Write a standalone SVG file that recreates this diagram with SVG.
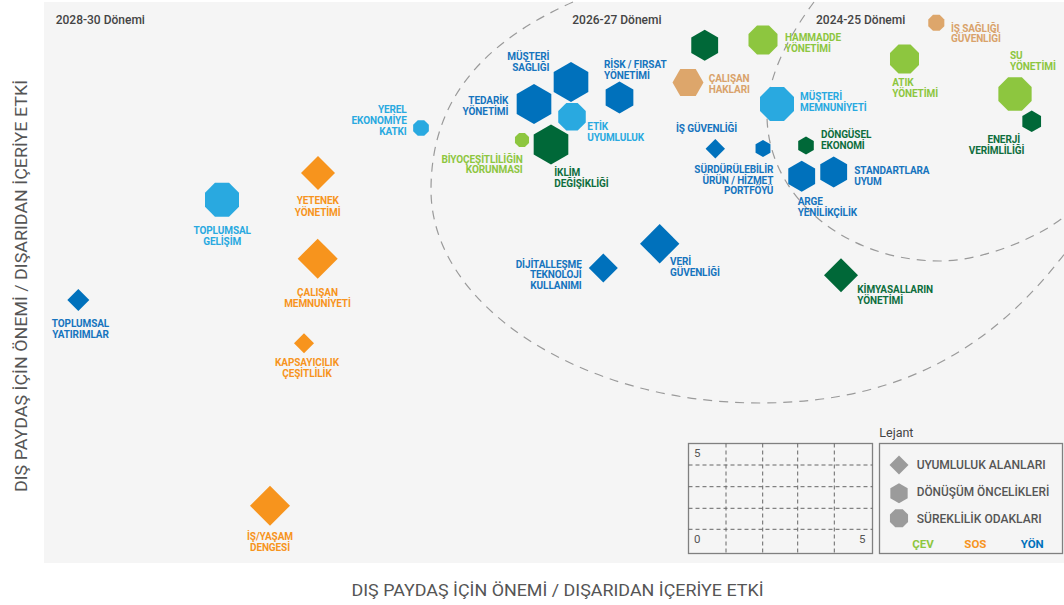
<svg xmlns="http://www.w3.org/2000/svg" xmlns:xlink="http://www.w3.org/1999/xlink" width="1064" height="605" viewBox="0 0 1064 605">
<defs>
<path id="oct" d="M0.3827,-0.9239 L0.9239,-0.3827 L0.9239,0.3827 L0.3827,0.9239 L-0.3827,0.9239 L-0.9239,0.3827 L-0.9239,-0.3827 L-0.3827,-0.9239 Z"/>
<path id="hex" d="M0,-1 L0.866,-0.5 L0.866,0.5 L0,1 L-0.866,0.5 L-0.866,-0.5 Z"/>
<path id="hexf" d="M-1,0 L-0.5,-0.866 L0.5,-0.866 L1,0 L0.5,0.866 L-0.5,0.866 Z"/>
<path id="dia" d="M0,-1 L1,0 L0,1 L-1,0 Z"/>
<style>
.lbl{font-family:Roboto,'Liberation Sans',sans-serif;font-size:10px;font-weight:700;letter-spacing:-0.1px}
.per{font-family:Roboto,'Liberation Sans',sans-serif;font-size:12px;font-weight:500;fill:#444}
.lej{font-family:Roboto,'Liberation Sans',sans-serif;font-size:12.5px;font-weight:400;fill:#444}
.axis{font-family:Roboto,'Liberation Sans',sans-serif;font-size:16.5px;font-weight:400;fill:#555}
.leg{font-family:Roboto,'Liberation Sans',sans-serif;font-size:12.8px;font-weight:500;fill:#555}
.num{font-family:Roboto,'Liberation Sans',sans-serif;font-size:11.5px;font-weight:400;fill:#555}
.cat{font-family:Roboto,'Liberation Sans',sans-serif;font-size:11.5px;font-weight:700}
.f-lb{fill:#29a9e0}.f-db{fill:#0071bc}.f-lg{fill:#8dc63f}.f-dg{fill:#006838}.f-or{fill:#f7941d}.f-tn{fill:#dda66b}.f-gy{fill:#9b9b9b}
.t-lb{fill:#29a9e0}.t-db{fill:#1674be}.t-lg{fill:#8dc63f}.t-dg{fill:#0e6e3d}.t-or{fill:#f7941d}.t-tn{fill:#d9a26a}
.arc{fill:none;stroke:#9a9a9a;stroke-width:1.2;stroke-dasharray:9 7}
.grid{fill:none;stroke:#666;stroke-width:1;stroke-dasharray:4 3}
.box{fill:none;stroke:#808080;stroke-width:1.3}
</style>
</defs>

<rect id="panel" x="44" y="2" width="1020" height="561" fill="#f5f5f5"/>

<g id="connectors">
<path class="arc" d="M573,2 C483,42 431,100 431,190 C431,305 580,403 760,403 C910,403 998.8,339.1 1064,254.5"/>
<path class="arc" d="M814,2 C790.6,33.4 767,75 767,115 C767,195.6 844.5,261 940,261 C985,261 1040,236 1064,217"/>
</g>

<g id="periods">
<text class="per" x="55.7" y="24.3">2028-30 Dönemi</text>
<text class="per" x="572.3" y="24">2026-27 Dönemi</text>
<text class="per" x="816" y="24">2024-25 Dönemi</text>
</g>

<g id="n-yerel-ekonomi"><use href="#oct" class="f-lb" transform="translate(421 128) scale(8.5)"/>
<text class="lbl t-lb" text-anchor="end"><tspan x="406.7" y="113.3">YEREL</tspan><tspan x="406.7" y="124.3">EKONOMİYE</tspan><tspan x="406.7" y="135">KATKI</tspan></text></g>

<g id="n-toplumsal-gelisim"><use href="#oct" class="f-lb" transform="translate(222 199.7) scale(18.4)"/>
<text class="lbl t-lb" text-anchor="middle"><tspan x="222.2" y="233.7">TOPLUMSAL</tspan><tspan x="222.2" y="244.7">GELİŞİM</tspan></text></g>

<g id="n-musteri-memnuniyeti"><use href="#oct" class="f-lb" transform="translate(777 104) scale(18.4)"/>
<text class="lbl t-lb"><tspan x="800" y="100">MÜŞTERİ</tspan><tspan x="800" y="111">MEMNUNİYETİ</tspan></text></g>

<g id="n-etik-uyumluluk"><use href="#oct" class="f-lb" transform="translate(572 116.7) scale(14.9)"/>
<text class="lbl t-lb"><tspan x="587.3" y="130">ETİK</tspan><tspan x="587.3" y="140.7">UYUMLULUK</tspan></text></g>

<g id="n-biyocesitlilik"><use href="#oct" class="f-lg" transform="translate(522 140) scale(7.6)"/>
<text class="lbl t-lg" text-anchor="end"><tspan x="522.7" y="162.7">BİYOÇEŞİTLİLİĞİN</tspan><tspan x="522.7" y="173.3">KORUNMASI</tspan></text></g>

<g id="n-hammadde"><use href="#oct" class="f-lg" transform="translate(763 40) scale(15.7)"/>
<text class="lbl t-lg"><tspan x="785" y="40.7">HAMMADDE</tspan><tspan x="785" y="51.7">YÖNETİMİ</tspan></text></g>

<g id="n-is-sagligi"><use href="#oct" class="f-tn" transform="translate(936.3 22.8) scale(8.7)"/>
<text class="lbl t-tn"><tspan x="951" y="31.7">İŞ SAĞLIĞI</tspan><tspan x="951" y="42.3">GÜVENLİĞİ</tspan></text></g>

<g id="n-atik"><use href="#oct" class="f-lg" transform="translate(904.5 59) scale(15.7)"/>
<text class="lbl t-lg"><tspan x="892.3" y="86">ATIK</tspan><tspan x="892.3" y="97.3">YÖNETİMİ</tspan></text></g>

<g id="n-su"><use href="#oct" class="f-lg" transform="translate(1015 94) scale(18)"/>
<text class="lbl t-lg"><tspan x="1010" y="59.3">SU</tspan><tspan x="1010" y="70">YÖNETİMİ</tspan></text></g>

<g id="n-musteri-sagligi"><use href="#hex" class="f-db" transform="translate(571 82) scale(20)"/>
<text class="lbl t-db" text-anchor="end"><tspan x="549.3" y="60">MÜŞTERİ</tspan><tspan x="549.3" y="70.7">SAĞLIĞI</tspan></text></g>

<g id="n-tedarik"><use href="#hex" class="f-db" transform="translate(534 104) scale(20)"/>
<text class="lbl t-db" text-anchor="end"><tspan x="508.3" y="104">TEDARİK</tspan><tspan x="508.3" y="115">YÖNETİMİ</tspan></text></g>

<g id="n-risk"><use href="#hex" class="f-db" transform="translate(619.5 97.5) scale(16)"/>
<text class="lbl t-db"><tspan x="604" y="67.7">RİSK / FIRSAT</tspan><tspan x="604" y="78.7">YÖNETİMİ</tspan></text></g>

<g id="n-calisan-haklari"><use href="#hexf" class="f-tn" transform="translate(688 82.5) scale(15.5)"/>
<text class="lbl t-tn"><tspan x="708.7" y="81.7">ÇALIŞAN</tspan><tspan x="708.7" y="92.7">HAKLARI</tspan></text></g>

<g id="n-cev-donusum"><use href="#hex" class="f-dg" transform="translate(704.7 45.3) scale(15.5)"/></g>

<g id="n-iklim"><use href="#hex" class="f-dg" transform="translate(551 144.5) scale(20)"/>
<text class="lbl t-dg"><tspan x="554.3" y="175.7">İKLİM</tspan><tspan x="554.3" y="186.7">DEĞİŞİKLİĞİ</tspan></text></g>

<g id="n-dongusel"><use href="#hex" class="f-dg" transform="translate(806 145.5) scale(9)"/>
<text class="lbl t-dg"><tspan x="821" y="138.3">DÖNGÜSEL</tspan><tspan x="821" y="149.3">EKONOMİ</tspan></text></g>

<g id="n-enerji"><use href="#hex" class="f-dg" transform="translate(1031.7 121.3) scale(10.8)"/>
<text class="lbl t-dg" text-anchor="end"><tspan x="1020" y="142.7">ENERJİ</tspan><tspan x="1024.3" y="154">VERİMLİLİĞİ</tspan></text></g>

<g id="n-surdurulebilir"><use href="#hex" class="f-db" transform="translate(763 148.5) scale(8.6)"/>
<text class="lbl t-db" text-anchor="end"><tspan x="773.3" y="172.7">SÜRDÜRÜLEBİLİR</tspan><tspan x="773.3" y="184">ÜRÜN / HİZMET</tspan><tspan x="773.3" y="194.3">PORTFÖYÜ</tspan></text></g>

<g id="n-arge"><use href="#hex" class="f-db" transform="translate(801.7 176.3) scale(15.5)"/>
<text class="lbl t-db"><tspan x="797.7" y="205">ARGE</tspan><tspan x="797.7" y="216">YENİLİKÇİLİK</tspan></text></g>

<g id="n-standartlara"><use href="#hex" class="f-db" transform="translate(833.7 172) scale(15.5)"/>
<text class="lbl t-db"><tspan x="854.3" y="174.3">STANDARTLARA</tspan><tspan x="854.3" y="185">UYUM</tspan></text></g>

<g id="n-yetenek"><use href="#dia" class="f-or" transform="translate(318 173) scale(17)"/>
<text class="lbl t-or" text-anchor="middle"><tspan x="317.7" y="204.3">YETENEK</tspan><tspan x="317.7" y="215.7">YÖNETİMİ</tspan></text></g>

<g id="n-calisan-memnuniyeti"><use href="#dia" class="f-or" transform="translate(317.7 258.7) scale(20)"/>
<text class="lbl t-or" text-anchor="middle"><tspan x="317.5" y="295.7">ÇALIŞAN</tspan><tspan x="317.5" y="306.7">MEMNUNİYETİ</tspan></text></g>

<g id="n-kapsayicilik"><use href="#dia" class="f-or" transform="translate(304 343.3) scale(10)"/>
<text class="lbl t-or" text-anchor="middle"><tspan x="307" y="366">KAPSAYICILIK</tspan><tspan x="307" y="376.7">ÇEŞİTLİLİK</tspan></text></g>

<g id="n-toplumsal-yatirimlar"><use href="#dia" class="f-db" transform="translate(78.3 300) scale(11)"/>
<text class="lbl t-db" text-anchor="middle"><tspan x="80.5" y="327.3">TOPLUMSAL</tspan><tspan x="80.5" y="338.3">YATIRIMLAR</tspan></text></g>

<g id="n-is-yasam"><use href="#dia" class="f-or" transform="translate(270 505.7) scale(20)"/>
<text class="lbl t-or" text-anchor="middle"><tspan x="270" y="539.5">İŞ/YAŞAM</tspan><tspan x="270" y="551.2">DENGESİ</tspan></text></g>

<g id="n-dijitallesme"><use href="#dia" class="f-db" transform="translate(603.3 268) scale(14.5)"/>
<text class="lbl t-db" text-anchor="end"><tspan x="581.7" y="267.7">DİJİTALLEŞME</tspan><tspan x="581.7" y="278.3">TEKNOLOJİ</tspan><tspan x="581.7" y="288.7">KULLANIMI</tspan></text></g>

<g id="n-veri"><use href="#dia" class="f-db" transform="translate(659.7 243.7) scale(19.7)"/>
<text class="lbl t-db"><tspan x="670" y="265">VERİ</tspan><tspan x="670" y="275.7">GÜVENLİĞİ</tspan></text></g>

<g id="n-is-guvenligi"><use href="#dia" class="f-db" transform="translate(715.3 148.7) scale(9.7)"/>
<text class="lbl t-db" x="676" y="132.3">İŞ GÜVENLİĞİ</text></g>

<g id="n-kimyasallar"><use href="#dia" class="f-dg" transform="translate(841 275.3) scale(17)"/>
<text class="lbl t-dg"><tspan x="857.3" y="293.3">KİMYASALLARIN</tspan><tspan x="857.3" y="304.3">YÖNETİMİ</tspan></text></g>

<g id="scale-grid">
<rect class="box" x="688.5" y="443.5" width="184" height="110"/>
<path class="grid" d="M688.5,465 H872.5 M688.5,486.7 H872.5 M688.5,508.3 H872.5 M688.5,529.3 H872.5 M726,443.5 V553.5 M762.7,443.5 V553.5 M797.7,443.5 V553.5 M834.3,443.5 V553.5"/>
<text class="num" x="694" y="457.3">5</text>
<text class="num" x="694" y="543.3">0</text>
<text class="num" x="865.5" y="543.3" text-anchor="end">5</text>
</g>

<g id="legend">
<text class="lej" x="879.3" y="436.7">Lejant</text>
<rect class="box" x="879.5" y="443.5" width="183" height="110"/>
<use href="#dia" class="f-gy" transform="translate(899 465) scale(9.5)"/>
<use href="#hex" class="f-gy" transform="translate(899 493.3) scale(10)"/>
<use href="#oct" class="f-gy" transform="translate(899 518.3) scale(9.8)"/>
<text class="leg" x="916.7" y="469.3" textLength="129" lengthAdjust="spacingAndGlyphs">UYUMLULUK ALANLARI</text>
<text class="leg" x="916.7" y="496" textLength="132.6" lengthAdjust="spacingAndGlyphs">DÖNÜŞÜM ÖNCELİKLERİ</text>
<text class="leg" x="916.7" y="523" textLength="125" lengthAdjust="spacingAndGlyphs">SÜREKLİLİK ODAKLARI</text>
<text class="cat" x="912.3" y="547.7" fill="#8dc63f">ÇEV</text>
<text class="cat" x="964.3" y="547.7" fill="#f7941d">SOS</text>
<text class="cat" x="1020.7" y="547.7" fill="#0071bc">YÖN</text>
</g>

<g id="axes">
<text class="axis" transform="translate(27 286) rotate(-90)" text-anchor="middle" textLength="412" lengthAdjust="spacingAndGlyphs">DIŞ PAYDAŞ İÇİN ÖNEMİ / DIŞARIDAN İÇERİYE ETKİ</text>
<text class="axis" x="557.5" y="595.6" text-anchor="middle" textLength="412" lengthAdjust="spacingAndGlyphs">DIŞ PAYDAŞ İÇİN ÖNEMİ / DIŞARIDAN İÇERİYE ETKİ</text>
</g>
</svg>
